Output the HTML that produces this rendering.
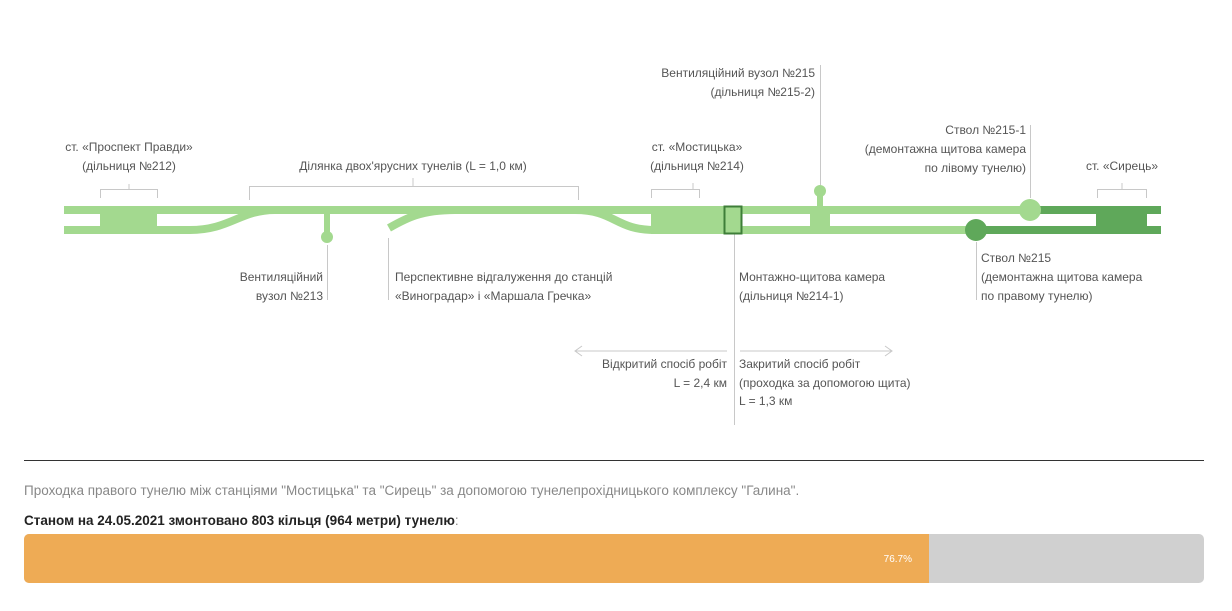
<!DOCTYPE html>
<html><head><meta charset="utf-8"><style>
body{margin:0;background:#fff;width:1232px;height:611px;overflow:hidden;font-family:"Liberation Sans",sans-serif}
svg text{font-family:"Liberation Sans",sans-serif;font-size:12px;fill:#555}
</style></head><body>
<svg width="1232" height="611" style="position:absolute;left:0;top:0">
<g fill="none" stroke="#c8c8c8" stroke-width="1">
<path d="M100.5 198V189.5H157.5V198M129 189V184"/>
<path d="M249.5 200V186.5H578.5V200M413 186V178"/>
<path d="M651.5 198V189.5H699.5V198M693 189V183"/>
<path d="M1097.5 198V189.5H1146.5V198M1122 189V183"/>
<path d="M327.5 245V300M388.5 238V300M734.5 234V425M820.5 185V65M1030.5 198V125M976.5 242V300"/>
<path d="M575 351H727M582 346L575 351L582 356M740 351H892M885 346L892 351L885 356"/>
</g>
<g fill="none" stroke="#a3d98f" stroke-width="8">
<path d="M64 230H190C230 230 240 210 275 210"/>
<path d="M389 228C405 219 420 210 455 210"/>
<path d="M575 210C615 210 615 230 655 230"/>
</g>
<g fill="#a3d98f">
<rect x="64" y="206" width="960" height="8"/>
<rect x="100" y="206" width="57" height="28"/>
<rect x="651" y="206" width="90" height="28"/>
<rect x="741" y="226" width="236" height="8"/>
<rect x="810" y="206" width="20" height="28"/>
<rect x="817" y="192" width="6" height="14"/>
<circle cx="820" cy="191" r="6"/>
<rect x="324" y="214" width="6" height="22"/>
<circle cx="327" cy="237" r="6"/>
</g>
<rect x="724.5" y="206.5" width="17" height="27" fill="#a3d98f" stroke="#3e7e38" stroke-width="2"/>
<g fill="#5fa85a">
<rect x="1020" y="206" width="141" height="8"/>
<rect x="976" y="226" width="185" height="8"/>
<rect x="1096" y="206" width="51" height="28"/>
<circle cx="976" cy="230" r="11"/>
</g>
<circle cx="1030" cy="210" r="11" fill="#a3d98f"/>
<g>
<text x="129" y="151" text-anchor="middle">ст. «Проспект Правди»</text>
<text x="129" y="170" text-anchor="middle">(дільниця №212)</text>
<text x="413" y="170" text-anchor="middle">Ділянка двох'ярусних тунелів (L = 1,0 км)</text>
<text x="323" y="281" text-anchor="end">Вентиляційний</text>
<text x="323" y="300" text-anchor="end">вузол №213</text>
<text x="395" y="281">Перспективне відгалуження до станцій</text>
<text x="395" y="300">«Виноградар» і «Маршала Гречка»</text>
<text x="697" y="151" text-anchor="middle">ст. «Мостицька»</text>
<text x="697" y="170" text-anchor="middle">(дільниця №214)</text>
<text x="815" y="77" text-anchor="end">Вентиляційний вузол №215</text>
<text x="815" y="96" text-anchor="end">(дільниця №215-2)</text>
<text x="1026" y="134" text-anchor="end">Ствол №215-1</text>
<text x="1026" y="153" text-anchor="end">(демонтажна щитова камера</text>
<text x="1026" y="172" text-anchor="end">по лівому тунелю)</text>
<text x="1122" y="170" text-anchor="middle">ст. «Сирець»</text>
<text x="739" y="281">Монтажно-щитова камера</text>
<text x="739" y="300">(дільниця №214-1)</text>
<text x="981" y="262">Ствол №215</text>
<text x="981" y="281">(демонтажна щитова камера</text>
<text x="981" y="300">по правому тунелю)</text>
<text x="727" y="368" text-anchor="end">Відкритий спосіб робіт</text>
<text x="727" y="387" text-anchor="end">L = 2,4 км</text>
<text x="739" y="368">Закритий спосіб робіт</text>
<text x="739" y="387">(проходка за допомогою щита)</text>
<text x="739" y="405">L = 1,3 км</text>
</g>
<rect x="24" y="460" width="1180" height="1" fill="#333"/>
<text x="24" y="495" style="font-size:13.5px;fill:#888">Проходка правого тунелю між станціями "Мостицька" та "Сирець" за допомогою тунелепрохідницького комплексу "Галина".</text>
<text x="24" y="525" style="font-size:13.5px;fill:#222;font-weight:bold">Станом на 24.05.2021 змонтовано 803 кільця (964 метри) тунелю<tspan style="font-weight:normal;fill:#888">:</tspan></text>
<rect x="24" y="534" width="1180" height="49" rx="5" fill="#d0d0d0"/>
<path d="M29 534H929V583H29A5 5 0 0 1 24 578V539A5 5 0 0 1 29 534Z" fill="#eeab55"/>
<text x="912" y="562" text-anchor="end" style="font-size:10px;fill:#fff">76.7%</text>
</svg>
</body></html>
